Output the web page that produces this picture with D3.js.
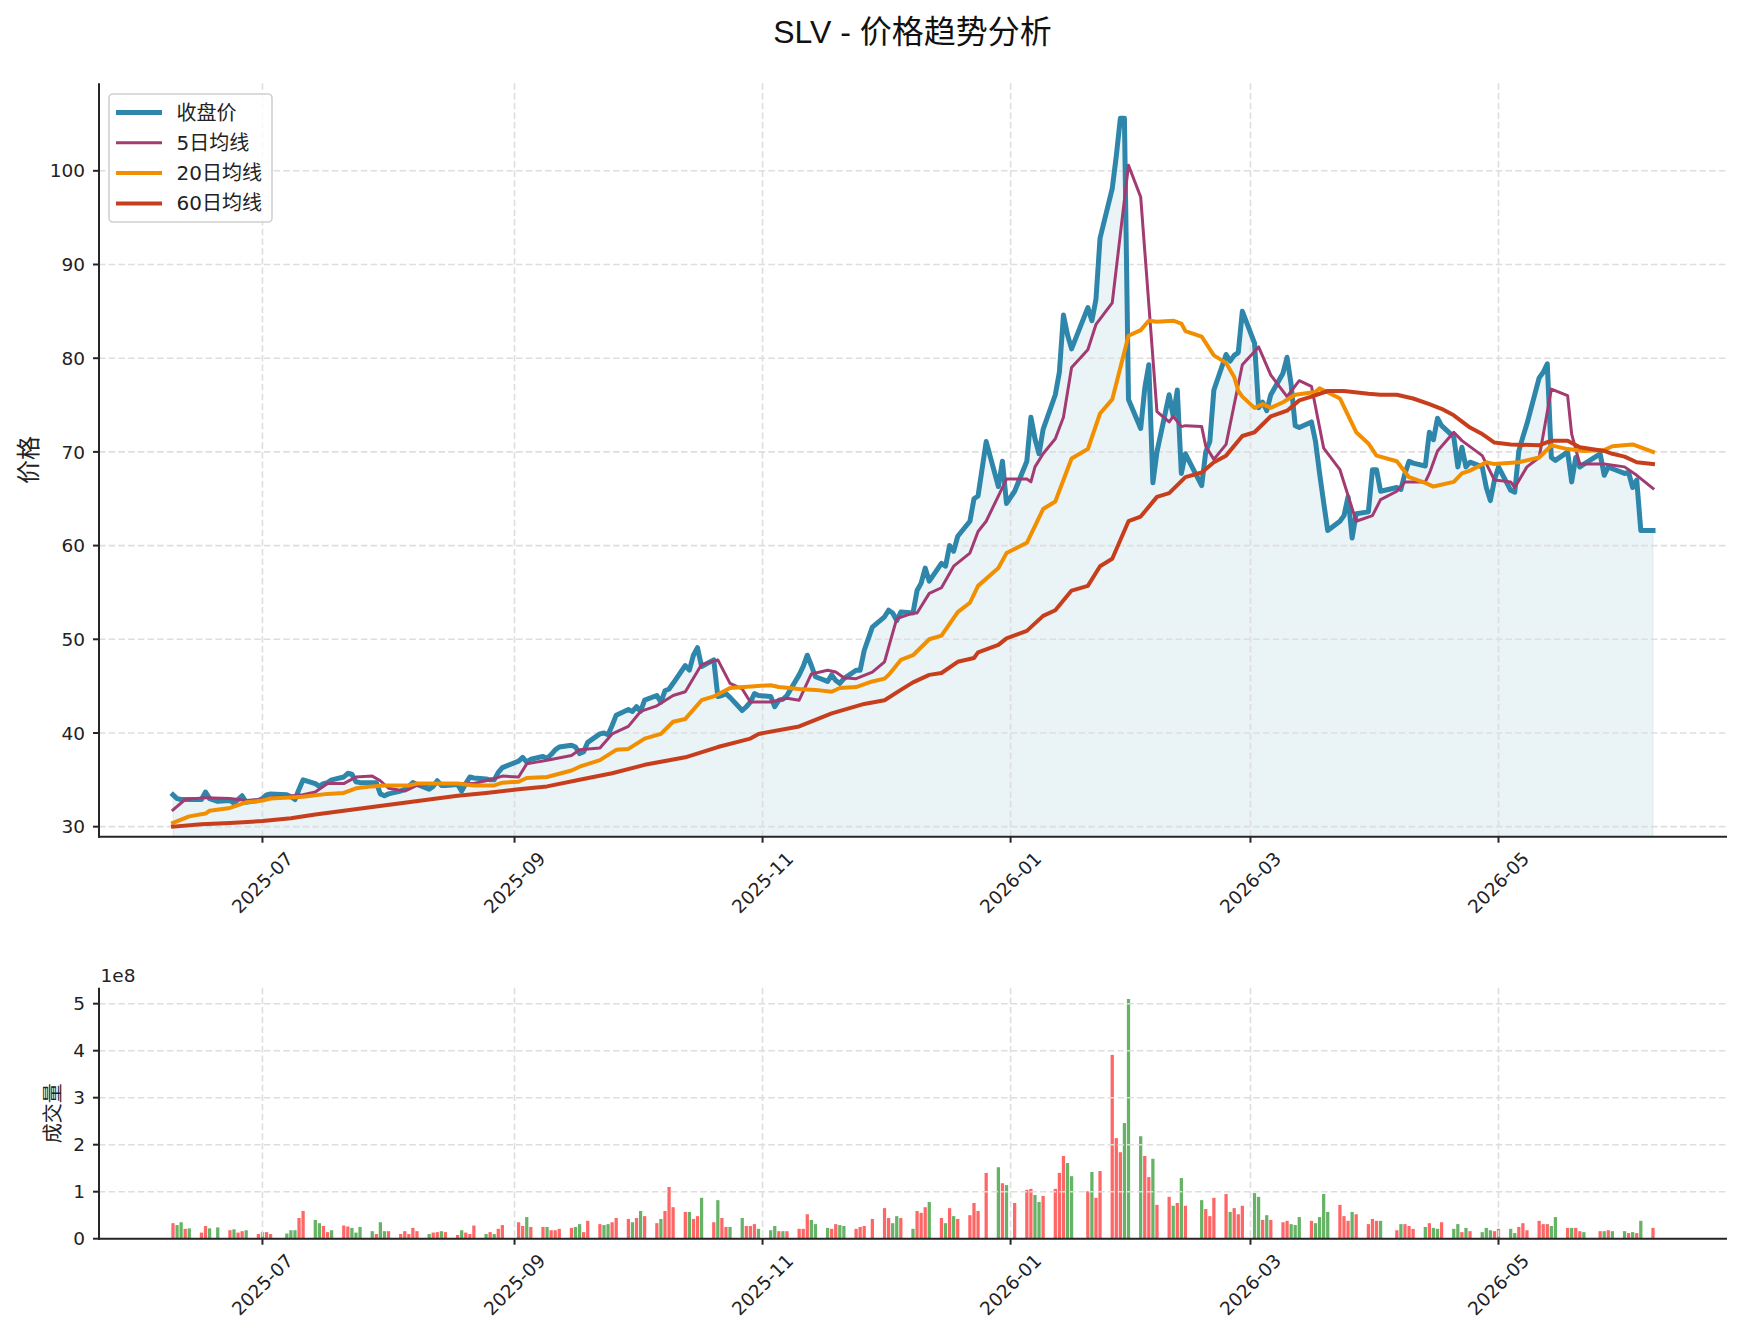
<!DOCTYPE html>
<html><head><meta charset="utf-8">
<script src="https://cdn.jsdelivr.net/npm/d3@7"></script>
<style>body{margin:0;background:#fff}</style>
</head><body>
<svg id="c" width="1741" height="1338" xmlns="http://www.w3.org/2000/svg"></svg>
<script>
// ---------- DATA ----------
const tradeDays = [
  "2025-06:9,10,11,12,13,16,17,18,20,23,24,25,26,27,30",
  "2025-07:1,2,3,7,8,9,10,11,14,15,16,17,18,21,22,23,24,25,28,29,30,31",
  "2025-08:1,4,5,6,7,8,11,12,13,14,15,18,19,20,21,22,25,26,27,28,29",
  "2025-09:2,3,4,5,8,9,10,11,12,15,16,17,18,19,22,23,24,25,26,29,30",
  "2025-10:1,2,3,6,7,8,9,10,13,14,15,16,17,20,21,22,23,24,27,28,29,30,31",
  "2025-11:3,4,5,6,7,10,11,12,13,14,17,18,19,20,21,24,25,26,28",
  "2025-12:1,2,3,4,5,8,9,10,11,12,15,16,17,18,19,22,23,24,26,29,30,31",
  "2026-01:2,5,6,7,8,9,12,13,14,15,16,20,21,22,23,26,27,28,29,30",
  "2026-02:2,3,4,5,6,9,10,11,12,13,17,18,19,20,23,24,25,26,27",
  "2026-03:2,3,4,5,6,9,10,11,12,13,16,17,18,19,20,23,24,25,26,27,30,31",
  "2026-04:1,2,6,7,8,9,10,13,14,15,16,17,20,21,22,23,24,27,28,29,30",
  "2026-05:1,4,5,6,7,8,11,12,13,14,15,18,19,20,21,22,26,27,28,29",
  "2026-06:1,2,3,4,5,8"
];
const closePrices = [
  33.4,33.0,32.9,32.9,32.9,32.9,33.7,33.0,32.7,32.8,32.5,32.9,33.3,32.6,32.8,
  33.0,33.4,33.5,33.4,33.2,32.9,34.0,35.0,34.6,34.3,34.6,34.7,35.0,35.3,35.7,35.6,34.8,34.7,34.7,34.7,33.5,33.3,
  33.5,33.8,34.0,34.3,34.7,34.5,34.0,34.3,34.9,34.4,34.4,34.5,33.8,34.6,35.3,35.2,35.1,35.0,35.0,35.8,36.3,
  37.0,37.4,36.9,37.2,37.5,37.3,37.7,38.2,38.5,38.7,38.5,37.8,38.0,39.0,39.9,40.0,39.8,40.8,41.9,42.5,42.3,
  42.8,42.3,43.5,44.0,43.3,44.5,44.7,45.3,47.2,46.7,48.3,49.1,47.1,47.8,43.9,44.0,44.2,43.8,42.4,42.8,43.3,44.2,44.0,
  43.9,42.8,43.5,43.6,44.0,46.2,47.1,48.3,47.2,46.0,45.5,46.2,45.6,45.3,45.8,46.7,46.7,48.8,51.3,
  52.4,53.1,52.8,52.0,52.9,52.8,55.2,56.0,57.6,56.2,58.1,57.8,60.0,59.4,61.0,62.6,65.0,65.3,71.1,66.3,69.0,64.5,
  65.8,69.0,73.7,71.4,69.8,72.4,76.1,78.5,84.6,82.5,81.0,85.4,84.0,86.3,92.8,98.1,101.6,105.6,105.6,75.6,
  72.5,76.8,79.3,66.7,70.0,76.1,73.8,76.6,67.7,69.8,66.4,70.0,71.1,76.6,80.4,79.7,80.3,80.6,85.0,
  81.6,74.7,75.3,74.4,76.1,78.4,80.1,77.2,72.8,72.6,73.2,71.1,67.7,64.6,61.6,62.6,63.2,65.2,60.8,63.4,63.6,68.1,
  68.1,65.8,66.2,66.0,67.7,69.0,68.8,68.5,72.1,71.3,73.6,72.8,71.6,68.4,70.5,68.4,68.9,68.4,66.2,64.8,67.0,
  68.4,65.9,65.7,70.1,71.6,73.0,77.9,78.5,79.4,69.4,69.1,70.0,66.8,69.4,68.4,68.7,69.8,67.5,68.4,68.2,
  67.7,67.8,66.2,67.0,61.6,61.6
];
// volume in millions of shares
const volumesM = [
  33,29,35,21,22,13,27,22,24,18,20,13,16,18,10,
  14,14,10,11,18,18,44,59,40,33,27,14,18,28,26,23,13,25,16,10,35,16,
  16,10,16,10,23,16,10,13,14,16,14,8,18,13,10,28,10,14,10,21,29,
  35,27,46,25,25,25,18,18,21,23,25,31,14,38,31,29,31,35,44,42,35,
  44,59,48,33,42,59,110,67,57,57,42,48,87,35,82,44,25,25,44,27,27,31,21,
  18,27,16,16,16,21,21,52,40,31,23,21,31,29,27,21,25,27,42,
  65,44,33,48,44,21,59,55,67,78,44,33,65,48,42,50,76,59,140,152,118,114,
  76,104,106,93,78,91,106,140,176,161,133,101,142,87,144,391,214,184,246,510,
  218,176,131,170,72,89,70,76,129,70,82,63,48,87,95,57,65,52,70,
  97,89,40,50,40,35,38,31,29,46,38,33,46,95,57,72,48,38,57,52,31,42,
  38,38,18,31,31,27,21,25,33,23,21,35,21,31,14,23,16,14,23,18,16,
  21,21,12,25,33,18,38,31,31,27,46,23,23,23,16,14,16,16,18,16,
  16,12,14,12,38,23
];
// r = up day (red bar), g = down day (green bar)
const volumeDir = [
  "rggrgrrggrgrrgr","grrgggrrggrrgrrggggrgg","rrrrrrgrrgrrgrrrgrgrr","rrgrrgrrrrggrrrggrrrg",
  "rgrrgrrrrgrrgrgrrggrrrg","ggrgrrrrgggrrggrrrr","rrggrgrrrgrgrgrrrrrgrg","rrrggrrrrggrgrrrrrgg",
  "grrgrrgrgrgrrrrgrrr","ggrgrrrgggrggggrrrgrrr","rgrgrrrgrggrggrgrgggr","rggrrrrrrggrgrrgrgrg","grgrgr"
];
const ma5 = [
  ["2025-06-09",31.8],["2025-06-12",32.9],["2025-06-17",33.1],["2025-06-23",33.0],["2025-06-27",32.8],["2025-07-01",32.9],
  ["2025-07-03",33.1],["2025-07-11",33.4],["2025-07-14",33.7],["2025-07-17",34.6],["2025-07-21",34.6],["2025-07-24",35.3],
  ["2025-07-28",35.4],["2025-07-30",34.9],["2025-08-01",34.1],["2025-08-05",33.8],["2025-08-08",34.4],["2025-08-13",34.6],
  ["2025-08-18",34.6],["2025-08-22",34.6],["2025-08-26",35.0],["2025-08-29",35.4],["2025-09-02",35.3],["2025-09-04",36.7],
  ["2025-09-09",37.1],["2025-09-15",37.6],["2025-09-17",38.2],["2025-09-22",38.4],["2025-09-25",39.9],["2025-09-29",40.7],
  ["2025-10-02",42.3],["2025-10-06",42.9],["2025-10-10",44.0],["2025-10-13",44.4],["2025-10-17",47.3],["2025-10-21",47.8],
  ["2025-10-24",45.3],["2025-10-27",44.7],["2025-10-29",43.3],["2025-11-03",43.3],["2025-11-07",43.7],["2025-11-10",43.5],
  ["2025-11-13",46.3],["2025-11-17",46.7],["2025-11-19",46.5],["2025-11-21",45.9],["2025-11-24",45.8],["2025-11-28",46.5],
  ["2025-12-01",47.6],["2025-12-04",52.2],["2025-12-08",52.8],["2025-12-09",52.8],["2025-12-12",54.9],["2025-12-15",55.5],
  ["2025-12-18",57.8],["2025-12-22",59.2],["2025-12-24",61.5],["2025-12-26",62.6],["2025-12-31",67.1],["2026-01-05",67.1],
  ["2026-01-06",66.8],["2026-01-07",68.4],["2026-01-09",69.8],["2026-01-12",71.4],["2026-01-14",73.7],["2026-01-16",79.0],
  ["2026-01-20",80.9],["2026-01-22",83.6],["2026-01-26",85.9],["2026-01-30",100.6],["2026-02-02",97.2],["2026-02-06",74.3],
  ["2026-02-09",73.2],["2026-02-10",73.8],["2026-02-12",72.7],["2026-02-13",72.8],["2026-02-17",72.7],["2026-02-18",70.6],
  ["2026-02-20",69.2],["2026-02-23",70.8],["2026-02-27",79.3],["2026-03-03",81.2],["2026-03-06",78.2],["2026-03-10",75.9],
  ["2026-03-13",77.6],["2026-03-16",77.0],["2026-03-19",70.4],["2026-03-23",68.1],["2026-03-27",62.6],["2026-03-31",63.2],
  ["2026-04-02",64.9],["2026-04-06",65.8],["2026-04-08",66.8],["2026-04-13",66.8],["2026-04-14",67.7],["2026-04-16",70.1],
  ["2026-04-20",72.1],["2026-04-22",71.2],["2026-04-27",69.6],["2026-04-30",67.0],["2026-05-04",66.8],["2026-05-05",66.2],
  ["2026-05-08",68.4],["2026-05-11",69.4],["2026-05-14",76.7],["2026-05-18",76.0],["2026-05-19",71.9],["2026-05-21",68.7],
  ["2026-05-27",68.7],["2026-06-01",68.4],["2026-06-04",67.5],["2026-06-08",66.1]
];
const ma20 = [
  ["2025-06-09",30.4],["2025-06-13",31.1],["2025-06-17",31.4],["2025-06-18",31.7],["2025-06-23",32.0],["2025-06-27",32.6],
  ["2025-07-01",32.8],["2025-07-03",33.0],["2025-07-11",33.2],["2025-07-17",33.5],["2025-07-21",33.6],["2025-07-24",34.1],
  ["2025-07-28",34.3],["2025-07-31",34.4],["2025-08-06",34.4],["2025-08-08",34.6],["2025-08-18",34.6],["2025-08-22",34.4],
  ["2025-08-27",34.4],["2025-08-29",34.7],["2025-09-02",34.8],["2025-09-04",35.2],["2025-09-09",35.3],["2025-09-15",36.0],
  ["2025-09-17",36.4],["2025-09-22",37.1],["2025-09-26",38.2],["2025-09-29",38.3],["2025-10-03",39.4],["2025-10-07",39.9],
  ["2025-10-10",41.2],["2025-10-13",41.5],["2025-10-17",43.5],["2025-10-20",43.9],["2025-10-24",44.8],["2025-10-30",45.0],
  ["2025-11-03",45.1],["2025-11-05",44.9],["2025-11-10",44.7],["2025-11-14",44.6],["2025-11-18",44.4],["2025-11-20",44.8],
  ["2025-11-24",44.9],["2025-11-28",45.5],["2025-12-01",45.8],["2025-12-02",46.2],["2025-12-05",47.8],["2025-12-08",48.3],
  ["2025-12-12",50.0],["2025-12-15",50.4],["2025-12-19",52.9],["2025-12-22",53.9],["2025-12-24",55.7],["2025-12-29",57.6],
  ["2025-12-31",59.2],["2026-01-05",60.3],["2026-01-09",63.9],["2026-01-12",64.7],["2026-01-16",69.3],["2026-01-20",70.3],
  ["2026-01-23",74.1],["2026-01-26",75.6],["2026-01-30",82.4],["2026-02-02",83.0],["2026-02-04",84.0],["2026-02-06",83.9],
  ["2026-02-10",84.0],["2026-02-12",83.7],["2026-02-13",82.9],["2026-02-17",82.3],["2026-02-20",80.3],["2026-02-23",79.5],
  ["2026-02-25",78.0],["2026-02-26",76.5],["2026-02-27",75.9],["2026-03-02",74.7],["2026-03-04",75.1],["2026-03-06",74.7],
  ["2026-03-09",75.3],["2026-03-12",76.1],["2026-03-17",76.4],["2026-03-18",76.8],["2026-03-23",75.7],["2026-03-27",72.1],
  ["2026-03-30",70.9],["2026-04-01",69.6],["2026-04-06",69.0],["2026-04-09",67.3],["2026-04-13",66.7],["2026-04-15",66.3],
  ["2026-04-20",66.8],["2026-04-22",67.7],["2026-04-24",68.0],["2026-04-28",68.9],["2026-04-30",68.7],["2026-05-06",68.9],
  ["2026-05-11",69.4],["2026-05-14",70.7],["2026-05-18",70.3],["2026-05-22",70.1],["2026-05-27",70.2],["2026-05-29",70.6],
  ["2026-06-03",70.8],["2026-06-08",70.0]
];
const ma60 = [
  ["2025-06-09",30.0],["2025-06-16",30.25],["2025-06-23",30.4],["2025-07-01",30.6],["2025-07-08",30.9],["2025-07-14",31.3],
  ["2025-07-21",31.7],["2025-07-28",32.1],["2025-08-04",32.5],["2025-08-11",32.9],["2025-08-18",33.3],["2025-08-25",33.6],
  ["2025-09-02",34.0],["2025-09-09",34.3],["2025-09-17",35.0],["2025-09-25",35.7],["2025-10-03",36.6],["2025-10-13",37.4],
  ["2025-10-21",38.5],["2025-10-29",39.4],["2025-10-31",39.9],["2025-11-10",40.7],["2025-11-18",42.1],["2025-11-26",43.1],
  ["2025-12-01",43.5],["2025-12-05",44.6],["2025-12-08",45.4],["2025-12-12",46.2],["2025-12-15",46.4],["2025-12-19",47.6],
  ["2025-12-23",48.0],["2025-12-24",48.6],["2025-12-29",49.4],["2025-12-31",50.1],["2026-01-05",50.9],["2026-01-09",52.5],
  ["2026-01-12",53.1],["2026-01-16",55.2],["2026-01-20",55.7],["2026-01-23",57.8],["2026-01-26",58.6],["2026-01-30",62.6],
  ["2026-02-02",63.1],["2026-02-06",65.2],["2026-02-09",65.6],["2026-02-13",67.3],["2026-02-17",67.8],["2026-02-20",68.9],
  ["2026-02-23",69.6],["2026-02-27",71.7],["2026-03-02",72.1],["2026-03-06",73.8],["2026-03-10",74.4],["2026-03-13",75.5],
  ["2026-03-16",75.9],["2026-03-20",76.5],["2026-03-24",76.5],["2026-03-30",76.2],["2026-04-02",76.1],["2026-04-06",76.1],
  ["2026-04-10",75.7],["2026-04-14",75.1],["2026-04-17",74.6],["2026-04-20",73.9],["2026-04-24",72.6],["2026-04-27",71.9],
  ["2026-04-28",71.6],["2026-04-30",71.0],["2026-05-04",70.8],["2026-05-11",70.7],["2026-05-14",71.2],["2026-05-18",71.2],
  ["2026-05-21",70.5],["2026-05-27",70.1],["2026-05-29",69.8],["2026-06-01",69.5],["2026-06-04",68.9],["2026-06-08",68.7]
];
const priceTicks = [30,40,50,60,70,80,90,100];
const volumeTicks = [0,1,2,3,4,5];           // x 1e8
const monthTicks = ["2025-07","2025-09","2025-11","2026-01","2026-03","2026-05"];
const legendLabels = ["收盘价","5日均线","20日均线","60日均线"];
const seriesColors = ["#2E86AB","#A23B72","#F18F01","#C73E1D"];
const titleText = "SLV - 价格趋势分析";

// ---------- LAYOUT ----------
const L = 99, R = 1727;
const P = {top: 83.3, bottom: 836.7};
const V = {top: 987.7, bottom: 1238.7};
const priceDomain = [28.93, 109.34];
const volDomainM = [0, 534];
const SANS = "'DejaVu Sans','Noto Sans CJK SC',sans-serif";
const TXT = "#222";

const parse = d3.utcParse("%Y-%m-%d");
const dates = tradeDays.flatMap(s => {
  const [ym, ds] = s.split(":");
  return ds.split(",").map(d => parse(`${ym}-${d.padStart(2, "0")}`));
});
const dirs = volumeDir.join("").split("");
const rows = dates.map((d, i) => ({date: d, close: closePrices[i], vol: volumesM[i], dir: dirs[i]}));

const first = dates[0], last = dates[dates.length - 1];
const span = last - first;
const x = d3.scaleUtc().domain([new Date(+first - 0.05 * span), new Date(+last + 0.05 * span)]).range([L, R]);
const yP = d3.scaleLinear().domain(priceDomain).range([P.bottom, P.top]);
const yV = d3.scaleLinear().domain(volDomainM).range([V.bottom, V.top]);
const tickDates = monthTicks.map(m => parse(m + "-01"));

const svg = d3.select("#c");
svg.append("rect").attr("width", 1741).attr("height", 1338).attr("fill", "#fff");

// title
svg.append("text").attr("x", 912.5).attr("y", 42.5).attr("text-anchor", "middle")
  .attr("font-family", "'Liberation Sans','Noto Sans CJK SC',sans-serif").attr("font-size", 32)
  .attr("fill", "#111").text(titleText);

function grid(g, yScale, yticks, top, bottom) {
  const gg = g.append("g").attr("stroke", "#dedede").attr("stroke-width", 1.6).attr("stroke-dasharray", "6.5,3.2");
  tickDates.forEach(d => gg.append("line").attr("x1", x(d)).attr("x2", x(d)).attr("y1", top).attr("y2", bottom));
  yticks.forEach(v => gg.append("line").attr("x1", L).attr("x2", R).attr("y1", yScale(v)).attr("y2", yScale(v)));
}

function axes(g, yScale, yticks, top, bottom, fmt) {
  const a = g.append("g");
  a.append("line").attr("x1", L).attr("x2", L).attr("y1", top).attr("y2", bottom + 1).attr("stroke", "#262626").attr("stroke-width", 2);
  a.append("line").attr("x1", L - 1).attr("x2", R).attr("y1", bottom).attr("y2", bottom).attr("stroke", "#262626").attr("stroke-width", 2);
  yticks.forEach(v => {
    a.append("line").attr("x1", L - 6).attr("x2", L).attr("y1", yScale(v)).attr("y2", yScale(v)).attr("stroke", "#262626").attr("stroke-width", 2);
    a.append("text").attr("x", L - 14).attr("y", yScale(v)).attr("dy", "0.36em").attr("text-anchor", "end")
      .attr("font-family", SANS).attr("font-size", 18.5).attr("fill", TXT).text(fmt(v));
  });
  tickDates.forEach((d, i) => {
    const tx = x(d);
    a.append("line").attr("x1", tx).attr("x2", tx).attr("y1", bottom).attr("y2", bottom + 6).attr("stroke", "#262626").attr("stroke-width", 2);
    const t = a.append("text").attr("text-anchor", "middle").attr("dominant-baseline", "central")
      .attr("font-family", SANS).attr("font-size", 18.5).attr("fill", TXT).text(monthTicks[i]);
    const w = t.node().getComputedTextLength();
    const h = 18.5;
    const half = (w + h) / Math.SQRT2 / 2;
    t.attr("transform", `translate(${tx},${bottom + 6 + 6 + half}) rotate(-45)`);
  });
}

// ---------- PRICE PANEL ----------
const gp = svg.append("g");
gp.append("path").datum(rows)
  .attr("d", d3.area().x(d => x(d.date)).y0(P.bottom).y1(d => yP(d.close)))
  .attr("fill", "#2E86AB").attr("fill-opacity", 0.1)
  .attr("stroke", "#2E86AB").attr("stroke-opacity", 0.12).attr("stroke-width", 1);
grid(gp, yP, priceTicks, P.top, P.bottom);

const line = d3.line().x(d => x(d[0])).y(d => yP(d[1]));
gp.append("path").datum(rows.map(r => [r.date, r.close])).attr("d", line)
  .attr("fill", "none").attr("stroke", seriesColors[0]).attr("stroke-width", 5).attr("stroke-linejoin", "round").attr("stroke-linecap", "square");
[[ma5, 3], [ma20, 4], [ma60, 4]].forEach(([s, w], i) => {
  gp.append("path").datum(s.map(p => [parse(p[0]), p[1]])).attr("d", line)
    .attr("fill", "none").attr("stroke", seriesColors[i + 1]).attr("stroke-width", w)
    .attr("stroke-linejoin", "round").attr("stroke-linecap", "square");
});
axes(gp, yP, priceTicks, P.top, P.bottom, d => String(d));

svg.append("text").attr("transform", `translate(29,${(P.top + P.bottom) / 2}) rotate(-90)`)
  .attr("text-anchor", "middle").attr("dominant-baseline", "central")
  .attr("font-family", SANS).attr("font-size", 24).attr("fill", TXT).text("价格");

// legend
const lg = svg.append("g");
lg.append("rect").attr("x", 109).attr("y", 94).attr("width", 163).attr("height", 128).attr("rx", 4)
  .attr("fill", "#fff").attr("fill-opacity", 0.8).attr("stroke", "#d0d0d0").attr("stroke-width", 1.6);
const lw = [5, 3, 4, 4];
legendLabels.forEach((lab, i) => {
  const yy = 112.5 + i * 30.3;
  lg.append("line").attr("x1", 116).attr("x2", 162).attr("y1", yy).attr("y2", yy)
    .attr("stroke", seriesColors[i]).attr("stroke-width", lw[i]);
  lg.append("text").attr("x", 176.5).attr("y", yy).attr("dominant-baseline", "central")
    .attr("font-family", SANS).attr("font-size", 20).attr("fill", TXT).text(lab);
});

// ---------- VOLUME PANEL ----------
const gv = svg.append("g");
const bw = x(new Date(+first + 0.8 * 86400000)) - x(first);
gv.selectAll("rect.bar").data(rows).enter().append("rect")
  .attr("x", d => x(d.date) - bw / 2).attr("width", bw)
  .attr("y", d => yV(d.vol)).attr("height", d => V.bottom - yV(d.vol))
  .attr("fill", d => d.dir === "r" ? "#ff6666" : "#66b366");
grid(gv, yV, volumeTicks.map(v => v * 100), V.top, V.bottom);
axes(gv, yV, volumeTicks.map(v => v * 100), V.top, V.bottom, d => String(d / 100));
svg.append("text").attr("x", 100.5).attr("y", 982).attr("font-family", SANS).attr("font-size", 18.5)
  .attr("fill", TXT).text("1e8");
svg.append("text").attr("transform", `translate(53.4,${(V.top + V.bottom) / 2}) rotate(-90)`)
  .attr("text-anchor", "middle").attr("dominant-baseline", "central")
  .attr("font-family", SANS).attr("font-size", 20).attr("fill", TXT).text("成交量");
</script>
</body></html>
